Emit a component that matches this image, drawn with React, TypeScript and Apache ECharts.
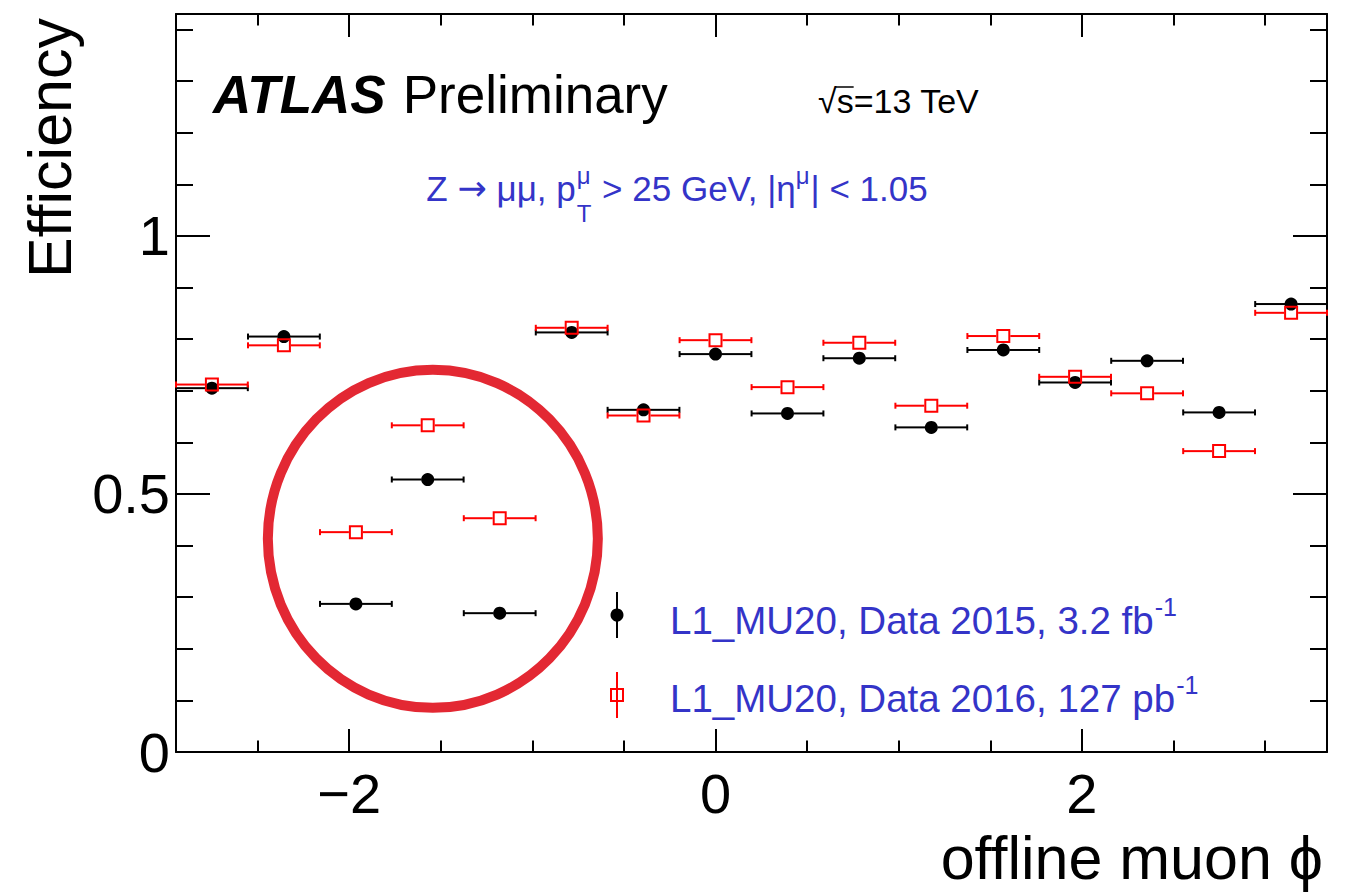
import React, { useEffect, useRef } from "react";
import * as echarts from "echarts";

// ---- data ----
const PHI_CENTERS = [-2.749, -2.356, -1.963, -1.571, -1.178, -0.785, -0.393, 0, 0.393, 0.785, 1.178, 1.571, 1.963, 2.356, 2.749, 3.142];
const BIN_HALF_WIDTH = 0.196;
const EFF_2015 = [0.705, 0.805, 0.287, 0.528, 0.269, 0.813, 0.663, 0.771, 0.656, 0.763, 0.629, 0.779, 0.716, 0.758, 0.658, 0.868];
const EFF_2016 = [0.712, 0.788, 0.426, 0.633, 0.453, 0.822, 0.652, 0.798, 0.707, 0.793, 0.671, 0.806, 0.727, 0.695, 0.583, 0.851];
const X_MIN = -2.945;
const X_MAX = 3.338;
const X_MAJOR = [-2, 0, 2];
const X_MINOR = [-2.5, -2, -1.5, -1, -0.5, 0, 0.5, 1, 1.5, 2, 2.5, 3];
const Y_MIN = 0;
const Y_MAX = 1.43;
const Y_MAJOR = [0, 0.5, 1];
const Y_MINOR = [0, 0.1, 0.2, 0.3, 0.4, 0.5, 0.6, 0.7, 0.8, 0.9, 1.0, 1.1, 1.2, 1.3, 1.4];
const LEGEND_2015 = "L1_MU20, Data 2015, 3.2 fb";
const LEGEND_2016 = "L1_MU20, Data 2016, 127 pb";
const LUMI_SUP = "-1";
const HIGHLIGHT_CENTER = [-1.543, 0.413];

const FONT = "'Liberation Sans', Arial, Helvetica, sans-serif";
const ARROW_FONT = "'DejaVu Sans', sans-serif";
const BLUE = "#3434c8";
const RED = "#ff0000";

let measureCtx: CanvasRenderingContext2D | null = null;
function tw(text: string, size: number, weight = "normal", style = "normal", family = FONT) {
  if (!measureCtx) measureCtx = document.createElement("canvas").getContext("2d");
  measureCtx!.font = `${style} ${weight} ${size}px ${family}`;
  return measureCtx!.measureText(text).width;
}

function txt(text: string, x: number, y: number, size: number, fill: string, extra: any = {}) {
  return {
    type: "text",
    x,
    y,
    z: 100,
    style: {
      text,
      fontSize: size,
      fontFamily: extra.fontFamily || FONT,
      fontWeight: extra.fontWeight || "normal",
      fontStyle: extra.fontStyle || "normal",
      fill,
      align: extra.align || "left",
      verticalAlign: "middle",
    },
    rotation: extra.rotation || 0,
  };
}

function errorBars(color: string, gap: number) {
  return (params: any, api: any) => {
    const x = api.value(0);
    const y = api.value(1);
    const hw = api.value(2);
    const lo = api.coord([x - hw, y]);
    const hi = api.coord([x + hw, y]);
    const c = api.coord([x, y]);
    const style = { stroke: color, lineWidth: 2 };
    const cap = 3;
    return {
      type: "group",
      children: [
        { type: "line", shape: { x1: lo[0], y1: c[1], x2: c[0] - gap, y2: c[1] }, style },
        { type: "line", shape: { x1: c[0] + gap, y1: c[1], x2: hi[0], y2: c[1] }, style },
        { type: "line", shape: { x1: lo[0], y1: c[1] - cap, x2: lo[0], y2: c[1] + cap }, style },
        { type: "line", shape: { x1: hi[0], y1: c[1] - cap, x2: hi[0], y2: c[1] + cap }, style },
      ],
    };
  };
}

function xAxisDef(position: string, ticks: number[], len: number, showLine: boolean, showLabels: boolean) {
  return {
    type: "value",
    min: X_MIN,
    max: X_MAX,
    position,
    axisLine: { show: showLine, onZero: false, lineStyle: { color: "#000", width: 2 } },
    axisTick: { show: true, inside: true, length: len, customValues: ticks, lineStyle: { color: "#000", width: 2 } },
    axisLabel: {
      show: showLabels,
      customValues: X_MAJOR,
      fontSize: 56,
      fontFamily: FONT,
      color: "#000",
      margin: 13,
      formatter: (v: number) => (v < 0 ? "\u2212" + Math.abs(v) : String(v)),
    },
    splitLine: { show: false },
  };
}

function yAxisDef(position: string, ticks: number[], len: number, showLine: boolean, showLabels: boolean) {
  return {
    type: "value",
    min: Y_MIN,
    max: Y_MAX,
    position,
    axisLine: { show: showLine, onZero: false, lineStyle: { color: "#000", width: 2 } },
    axisTick: { show: true, inside: true, length: len, customValues: ticks, lineStyle: { color: "#000", width: 2 } },
    axisLabel: {
      show: showLabels,
      customValues: Y_MAJOR,
      fontSize: 56,
      fontFamily: FONT,
      color: "#000",
      margin: 6,
      formatter: (v: number) => String(v),
    },
    splitLine: { show: false },
  };
}

export default function App() {
  const ref = useRef<HTMLDivElement>(null);
  useEffect(() => {
    if (!ref.current) return;
    const chart = echarts.init(ref.current, null, { renderer: "svg" });
    const data2015 = PHI_CENTERS.map((x, i) => [x, EFF_2015[i], BIN_HALF_WIDTH]);
    const data2016 = PHI_CENTERS.map((x, i) => [x, EFF_2016[i], BIN_HALF_WIDTH]);

    chart.setOption({
      animation: false,
      backgroundColor: "#fff",
      grid: { left: 176, top: 14, right: 27, bottom: 142, containLabel: false },
      xAxis: [
        xAxisDef("bottom", X_MAJOR, 23, true, true),
        xAxisDef("bottom", X_MINOR, 11.5, false, false),
        xAxisDef("top", X_MAJOR, 23, true, false),
        xAxisDef("top", X_MINOR, 11.5, false, false),
      ],
      yAxis: [
        yAxisDef("left", Y_MAJOR, 34, true, true),
        yAxisDef("left", Y_MINOR, 17, false, false),
        yAxisDef("right", Y_MAJOR, 34, true, false),
        yAxisDef("right", Y_MINOR, 17, false, false),
      ],
      series: [
        {
          type: "custom",
          name: "err2015",
          renderItem: errorBars("#000", 6),
          data: data2015,
          encode: { x: 0, y: 1 },
          clip: false,
          z: 2,
        },
        {
          type: "scatter",
          name: "L1_MU20, Data 2015",
          data: data2015.map((d) => [d[0], d[1]]),
          symbol: "circle",
          symbolSize: 13,
          itemStyle: { color: "#000", opacity: 1 },
          z: 3,
        },
        {
          type: "custom",
          name: "err2016",
          renderItem: errorBars(RED, 7),
          data: data2016,
          encode: { x: 0, y: 1 },
          clip: false,
          z: 4,
        },
        {
          type: "scatter",
          name: "L1_MU20, Data 2016",
          data: data2016.map((d) => [d[0], d[1]]),
          symbol: "rect",
          symbolSize: 12,
          itemStyle: { color: "rgba(255,255,255,0)", borderColor: RED, borderWidth: 2, opacity: 1 },
          z: 5,
        },
      ],
    });

    const center = chart.convertToPixel({ gridIndex: 0 }, HIGHLIGHT_CENTER) as number[];

    // blue selection text with stacked sup/sub
    const mainFs = 35;
    const smallFs = 24;
    const p0 = "Z ";
    const arrow = "\u2192";
    const p1 = " \u03bc\u03bc, p";
    const p2 = " > 25 GeV, |\u03b7";
    const p3 = "| < 1.05";
    const w0 = tw(p0, mainFs);
    const wA = tw(arrow, mainFs, "normal", "normal", ARROW_FONT);
    const w1 = tw(p1, mainFs);
    const wSS = Math.max(tw("\u03bc", smallFs), tw("T", smallFs)) + 2;
    const w2 = tw(p2, mainFs);
    const wS2 = tw("\u03bc", smallFs) + 1;
    const w3 = tw(p3, mainFs);
    const total = w0 + wA + w1 + wSS + w2 + wS2 + w3;
    let bx = 677 - total / 2;
    const by = 188;
    const blue: any[] = [];
    blue.push(txt(p0, bx, by, mainFs, BLUE));
    bx += w0;
    blue.push(txt(arrow, bx, by, mainFs, BLUE, { fontFamily: ARROW_FONT }));
    bx += wA;
    blue.push(txt(p1, bx, by, mainFs, BLUE));
    bx += w1;
    blue.push(txt("\u03bc", bx + 1, 175, smallFs, BLUE));
    blue.push(txt("T", bx + 1, 213, smallFs, BLUE));
    bx += wSS;
    blue.push(txt(p2, bx, by, mainFs, BLUE));
    bx += w2;
    blue.push(txt("\u03bc", bx, 175, smallFs, BLUE));
    bx += wS2;
    blue.push(txt(p3, bx, by, mainFs, BLUE));

    // sqrt(s) label
    const sqFs = 34;
    const sqX = 818;
    const wRad = tw("\u221a", sqFs);
    const wS = tw("s", sqFs);
    const sqrtEls: any[] = [
      txt("\u221as=13 TeV", sqX, 101, sqFs, "#000"),
      {
        type: "line",
        z: 100,
        shape: { x1: sqX + wRad - 1, y1: 87, x2: sqX + wRad + wS, y2: 87 },
        style: { stroke: "#000", lineWidth: 1.5 },
      },
    ];

    // legend
    const legFs = 38.5;
    const legSup = 25;
    const legX = 670;
    const rows = [
      { y: 620, text: LEGEND_2015 },
      { y: 698, text: LEGEND_2016 },
    ];
    const legend: any[] = [];
    rows.forEach((r) => {
      legend.push(txt(r.text, legX, r.y, legFs, BLUE));
      legend.push(txt(LUMI_SUP, legX + tw(r.text, legFs) + 1, r.y - 13, legSup, BLUE));
    });
    legend.push({ type: "line", z: 100, shape: { x1: 617, y1: 592, x2: 617, y2: 638 }, style: { stroke: "#000", lineWidth: 2 } });
    legend.push({ type: "circle", z: 101, shape: { cx: 617, cy: 615, r: 6.5 }, style: { fill: "#000" } });
    legend.push({ type: "line", z: 100, shape: { x1: 617, y1: 672, x2: 617, y2: 718 }, style: { stroke: RED, lineWidth: 2 } });
    legend.push({ type: "rect", z: 101, shape: { x: 611, y: 689, width: 12, height: 12 }, style: { fill: "rgba(255,255,255,0)", stroke: RED, lineWidth: 2 } });

    const atlasFs = 53;
    const wAtlas = tw("ATLAS", atlasFs, "bold", "italic");

    chart.setOption({
      graphic: [
        {
          type: "ellipse",
          z: 50,
          shape: { cx: center[0], cy: center[1], rx: 165, ry: 169 },
          style: { fill: "none", stroke: "#e32833", lineWidth: 10 },
        },
        txt("ATLAS", 213, 94, atlasFs, "#000", { fontWeight: "bold", fontStyle: "italic" }),
        txt("Preliminary", 213 + wAtlas + 17, 94, atlasFs, "#000"),
        ...sqrtEls,
        ...blue,
        ...legend,
        txt("Efficiency", 50, 18, 61, "#000", { align: "right", rotation: Math.PI / 2 }),
        txt("offline muon \u03d5", 1323, 858, 61, "#000", { align: "right" }),
      ],
    });

    return () => chart.dispose();
  }, []);

  return (
    <div
      ref={ref}
      style={{ position: "absolute", left: 0, top: 0, width: 1354, height: 894, background: "#fff" }}
    />
  );
}
